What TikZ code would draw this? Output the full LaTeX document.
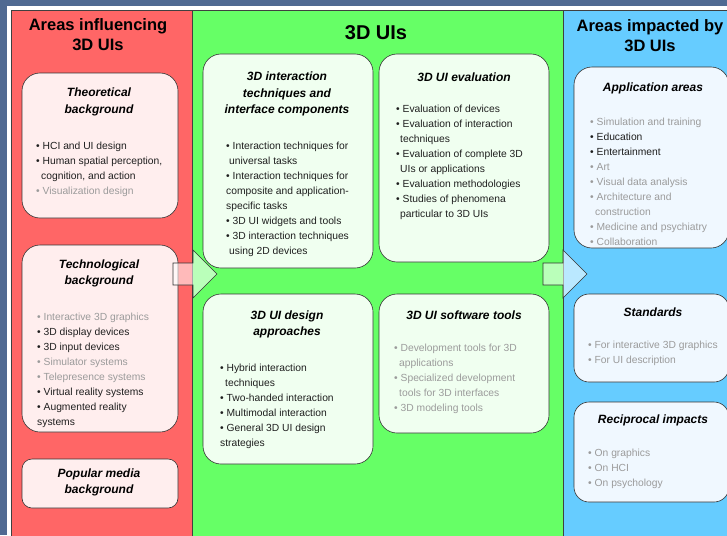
\documentclass[tikz,border=0pt]{standalone}
\usepackage{fontspec}
\setmainfont{Liberation Sans}
\usetikzlibrary{positioning}
\definecolor{slate}{RGB}{80,106,146}
\definecolor{redpanel}{RGB}{255,102,102}
\definecolor{greenpanel}{RGB}{102,255,102}
\definecolor{bluepanel}{RGB}{102,204,255}
\definecolor{redcard}{RGB}{255,238,238}
\definecolor{greencard}{RGB}{240,255,240}
\definecolor{bluecard}{RGB}{240,248,255}
\definecolor{dimtext}{RGB}{155,155,155}
\newcommand{\faded}[1]{\textcolor{dimtext}{#1}}
\newcommand{\itm}{\textbullet\ }
\begin{document}
\begin{tikzpicture}[x=1pt, y=-1pt,
    panel/.style={draw=black!75, line width=0.7pt},
    card/.style={draw=black!80, line width=0.6pt, rounded corners=18pt, inner sep=0pt},
    paneltitle/.style={font=\bfseries\fontsize{16.5}{19.5}\selectfont, align=center, inner sep=0pt},
    cardtitle/.style={font=\bfseries\itshape\fontsize{12}{16.5}\selectfont, align=center, inner sep=0pt},
    items/.style={font=\fontsize{10.3}{15}\selectfont, align=left, anchor=north west, inner sep=0pt, text=black!88},
    blockarrow/.style={draw=black!80, line width=0.6pt, fill=white, fill opacity=0.55}]
    \useasboundingbox (0,0) rectangle (727,535);
    \fill[slate] (0,0) rectangle (727,535);
    \fill[white] (7,6) rectangle (740,540);
    % the three areas
    \draw[panel, fill=redpanel] (11,10) rectangle (192,540);
    \draw[panel, fill=greenpanel] (192,10) rectangle (563,540);
    \draw[panel, fill=bluepanel] (563,10) rectangle (740,540);
    \node[paneltitle] (leftTitle) at (98,34.5) {Areas influencing\\3D UIs};
    \node[paneltitle, font=\bfseries\fontsize{20}{24}\selectfont] (midTitle) at (376,33) {3D UIs};
    \node[paneltitle] (rightTitle) at (650,35.5) {Areas impacted by\\3D UIs};

    % influencing
    \node[card, fill=redcard, minimum width=156pt, minimum height=145pt] (theo) at (100,145.5) {};
    \node[cardtitle] (theoTitle) at (99,102) {Theoretical\\background};
    \node[items] (theoList) at (36,142) {\itm HCI and UI design\\
        \itm Human spatial perception,\\
        \hspace*{5pt}cognition, and action\\
        \faded{\itm Visualization design}};
    \node[card, fill=redcard, minimum width=156pt, minimum height=187pt] (tech) at (100,338.5) {};
    \node[cardtitle] (techTitle) at (99,273.5) {Technological\\background};
    \node[items] (techList) at (37,313) {\faded{\itm Interactive 3D graphics}\\
        \itm 3D display devices\\
        \itm 3D input devices\\
        \faded{\itm Simulator systems}\\
        \faded{\itm Telepresence systems}\\
        \itm Virtual reality systems\\
        \itm Augmented reality\\
        systems};
    \node[card, fill=redcard, rounded corners=10pt, minimum width=156pt, minimum height=49pt] (media) at (100,483.5) {};
    \node[cardtitle] (mediaTitle) at (99,482.5) {Popular media\\background};

    % 3D UIs
    \node[card, fill=greencard, minimum width=170pt, minimum height=214pt] (inter) at (288,161) {};
    \node[cardtitle] (interTitle) at (287,94) {3D interaction\\techniques and\\interface components};
    \node[items] (interList) at (226,142) {\itm Interaction techniques for\\
        \hspace*{3pt}universal tasks\\
        \itm Interaction techniques for\\
        composite and application-\\
        specific tasks\\
        \itm 3D UI widgets and tools\\
        \itm 3D interaction techniques\\
        \hspace*{3pt}using 2D devices};
    \node[card, fill=greencard, minimum width=170pt, minimum height=208pt] (eval) at (464,158) {};
    \node[cardtitle] (evalTitle) at (464,77) {3D UI evaluation};
    \node[items] (evalList) at (396,105) {\itm Evaluation of devices\\
        \itm Evaluation of interaction\\
        \hspace*{4pt}techniques\\
        \itm Evaluation of complete 3D\\
        \hspace*{4pt}UIs or applications\\
        \itm Evaluation methodologies\\
        \itm Studies of phenomena\\
        \hspace*{4pt}particular to 3D UIs};
    \node[card, fill=greencard, minimum width=170pt, minimum height=170pt] (design) at (288,379) {};
    \node[cardtitle] (designTitle) at (287,324.5) {3D UI design\\approaches};
    \node[items] (designList) at (220,364) {\itm Hybrid interaction\\
        \hspace*{5pt}techniques\\
        \itm Two-handed interaction\\
        \itm Multimodal interaction\\
        \itm General 3D UI design\\
        strategies};
    \node[card, fill=greencard, minimum width=170pt, minimum height=139pt] (soft) at (464,363.5) {};
    \node[cardtitle] (softTitle) at (464,315) {3D UI software tools};
    \node[items, text=dimtext] (softList) at (394,344) {\itm Development tools for 3D\\
        \hspace*{5pt}applications\\
        \itm Specialized development\\
        \hspace*{5pt}tools for 3D interfaces\\
        \itm 3D modeling tools};

    % impacted
    \node[card, fill=bluecard, minimum width=155pt, minimum height=181pt] (apps) at (651.5,157.5) {};
    \node[cardtitle] (appsTitle) at (653,88) {Application areas};
    \node[items] (appsList) at (590,118) {\faded{\itm Simulation and training}\\
        \itm Education\\
        \itm Entertainment\\
        \faded{\itm Art}\\
        \faded{\itm Visual data analysis}\\
        \faded{\itm Architecture and}\\
        \faded{\hspace*{5pt}construction}\\
        \faded{\itm Medicine and psychiatry}\\
        \faded{\itm Collaboration}};
    \node[card, fill=bluecard, rounded corners=15pt, minimum width=155pt, minimum height=88pt] (stds) at (651.5,338) {};
    \node[cardtitle] (stdsTitle) at (653,312) {Standards};
    \node[items, text=dimtext] (stdsList) at (588,341) {\itm For interactive 3D graphics\\
        \itm For UI description};
    \node[card, fill=bluecard, rounded corners=15pt, minimum width=155pt, minimum height=100pt] (recip) at (651.5,452) {};
    \node[cardtitle] (recipTitle) at (653,420) {Reciprocal impacts};
    \node[items, text=dimtext] (recipList) at (588,449) {\itm On graphics\\
        \itm On HCI\\
        \itm On psychology};

    % flow between the areas
    \draw[blockarrow] (173,263) -- (193,263) -- (193,250) -- (217,274) -- (193,298) -- (193,285) -- (173,285) -- cycle;
    \draw[blockarrow] (543,263) -- (563,263) -- (563,250) -- (587,274) -- (563,298) -- (563,285) -- (543,285) -- cycle;
\end{tikzpicture}
\end{document}
